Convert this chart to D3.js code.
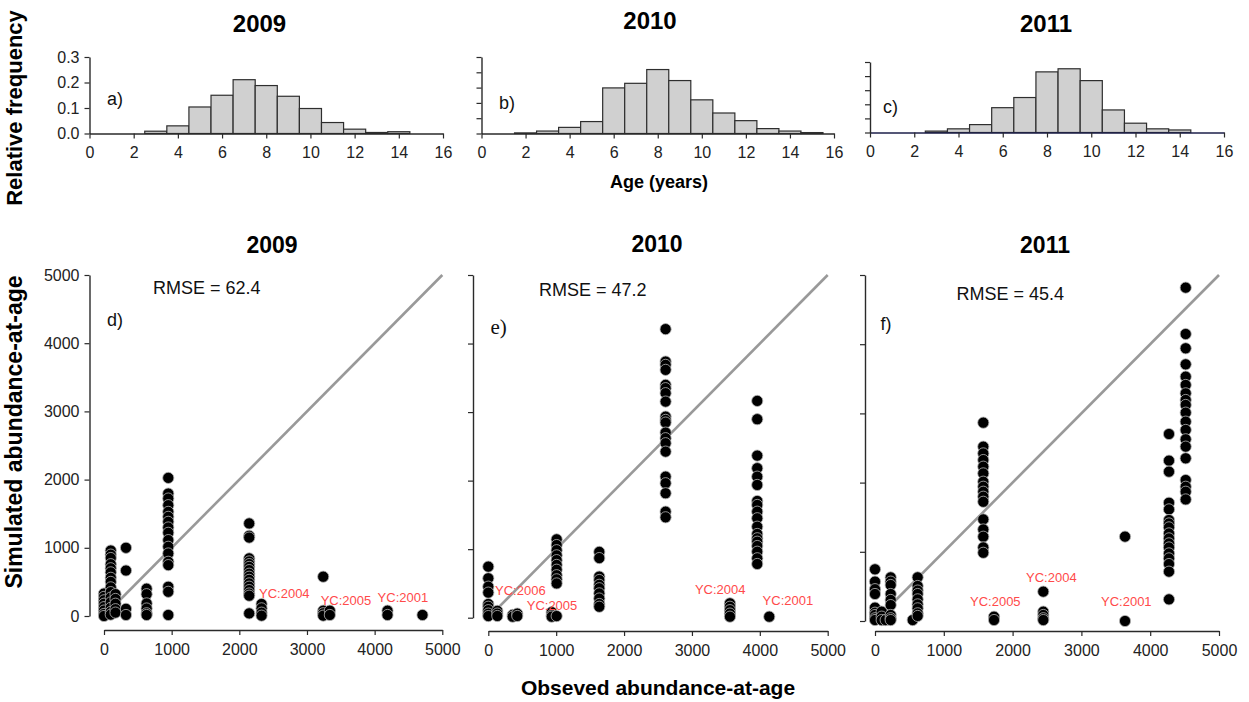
<!DOCTYPE html>
<html>
<head>
<meta charset="utf-8">
<script src="https://cdn.jsdelivr.net/npm/d3@7"></script>
<style>
  html, body { margin: 0; padding: 0; background: #fff; }
  svg { display: block; font-family: Arial, "Liberation Sans", sans-serif; }
</style>
</head>
<body>
<svg id="chart" width="1249" height="702"></svg>
<script>
// ---- Age composition (relative frequency by age) ----
const ages = [1, 2, 3, 4, 5, 6, 7, 8, 9, 10, 11, 12, 13, 14, 15];
const freq2009 = [0, 0, 0.009, 0.03, 0.104, 0.15, 0.211, 0.188, 0.146, 0.098, 0.043, 0.017, 0.004, 0.007, 0];
const freq2010 = [0, 0.002, 0.008, 0.02, 0.039, 0.149, 0.164, 0.209, 0.173, 0.11, 0.067, 0.042, 0.016, 0.008, 0.003];
const freq2011 = [0, 0, 0.005, 0.013, 0.028, 0.088, 0.124, 0.215, 0.226, 0.184, 0.08, 0.033, 0.013, 0.009, 0];
const ageTicks = [0, 2, 4, 6, 8, 10, 12, 14, 16];
const freqTicks = [0, 0.1, 0.2, 0.3];
const freqTicksMinor = [0, 0.05, 0.1, 0.15, 0.2, 0.25];

// ---- Observed vs simulated abundance-at-age ----
const obs2009 = [0, 100, 170, 325, 630, 950, 2146, 2329, 3240, 3338, 4190, 4707];
const sim2009 = [
  [330, 280, 230, 180, 130, 80, 30, 0],
  [960, 900, 850, 760, 700, 640, 560, 500, 420, 350, 270, 200, 120, 60, 20],
  [320, 250, 180, 100, 50],
  [1000, 667, 105, 15],
  [400, 320, 185, 110, 40, 15],
  [2025, 1795, 1722, 1625, 1527, 1454, 1381, 1298, 1220, 1113, 1015, 917, 795, 746, 429, 355, 15],
  [1357, 1176, 1150, 845, 800, 761, 720, 673, 620, 576, 530, 478, 430, 380, 330, 298, 38],
  [176, 112, 49, 5],
  [576, 78, 40, 5],
  [78, 15],
  [78, 15],
  [15]
];
const obs2010 = [0, 133, 359, 427, 934, 1007, 1635, 2612, 3560, 3962, 4139];
const sim2010 = [
  [745, 575, 453, 366, 200, 160, 110, 60, 24],
  [100, 60, 25],
  [40, 15],
  [60, 25],
  [80, 35, 15],
  [1143, 1060, 985, 910, 840, 770, 700, 620, 560, 500, 24],
  [960, 870, 600, 550, 480, 430, 355, 280, 200, 160],
  [4210, 3737, 3689, 3616, 3397, 3349, 3276, 3153, 2934, 2886, 2847, 2701, 2619, 2546, 2423, 2058, 1962, 1816, 1547, 1465],
  [210, 160, 110, 60, 15],
  [3163, 2896, 2365, 2181, 2058, 1937, 1703, 1645, 1547, 1451, 1328, 1222, 1159, 1109, 1046, 963, 867, 784],
  [15]
];
const obs2011 = [0, 97, 155, 228, 548, 620, 1574, 1730, 2446, 3634, 4273, 4516];
const sim2011 = [
  [747, 569, 460, 390, 193, 120, 87, 40, 14],
  [135, 63, 14],
  [14],
  [630, 569, 520, 390, 304, 230, 87, 40, 14],
  [14],
  [631, 506, 440, 390, 313, 240, 183, 111, 73],
  [2866, 2519, 2422, 2326, 2230, 2133, 2013, 1940, 1868, 1796, 1723, 1468, 1323, 1218, 1063, 986],
  [62, 14],
  [424, 135, 87, 40, 14],
  [1219, 0],
  [2702, 2317, 2158, 1709, 1613, 1459, 1410, 1353, 1266, 1194, 1122, 1063, 977, 905, 823, 713, 313],
  [4817, 4147, 3941, 3709, 3531, 3411, 3290, 3194, 3122, 3011, 2881, 2761, 2626, 2520, 2351, 2037, 1940, 1868, 1757]
];
const abundTicks = [0, 1000, 2000, 3000, 4000, 5000];
const rmseValues = [62.4, 47.2, 45.4];
const years = ["2009", "2010", "2011"];

// Year-class annotations, anchored in data units (observed, simulated)
const cohortLabels = [
  [{t: "YC:2004", x: 2291, y: 337}, {t: "YC:2005", x: 3203, y: 235}, {t: "YC:2001", x: 4044, y: 274}],
  [{t: "YC:2006", x: 99, y: 394}, {t: "YC:2005", x: 566, y: 175}, {t: "YC:2004", x: 3044, y: 419}, {t: "YC:2001", x: 4041, y: 258}],
  [{t: "YC:2005", x: 1381, y: 289}, {t: "YC:2004", x: 2195, y: 632}, {t: "YC:2001", x: 3285, y: 289}]
];

const svg = d3.select("#chart");
const axisColor = "#2a2a2a";
const tickColor = "#222";

function styleAxis(g) {
  g.select(".domain").attr("stroke", axisColor).attr("stroke-width", 1.4);
  g.selectAll(".tick line").attr("stroke", axisColor).attr("stroke-width", 1.2);
  g.selectAll(".tick text").attr("fill", tickColor).style("font-size", "16px")
    .style("font-family", "Arial, 'Liberation Sans', sans-serif");
}

// ---------- Histograms ----------
const histPanels = [
  {freq: freq2009, x0: 89.5, x1: 443, y0: 133.5, yTop: 57, dom: 0.3, ticks: freqTicks, labelY: true, tag: "a)", tagX: 107, tagY: 99, titleX: 259.5, titleY: 23, xAxisColor: axisColor},
  {freq: freq2010, x0: 481.5, x1: 834, y0: 133.5, yTop: 57, dom: 0.25, ticks: freqTicksMinor, labelY: false, tag: "b)", tagX: 499, tagY: 103, titleX: 650, titleY: 20, xAxisColor: axisColor},
  {freq: freq2011, x0: 870, x1: 1224, y0: 132.5, yTop: 62, dom: 0.25, ticks: freqTicksMinor, labelY: false, tag: "c)", tagX: 883, tagY: 107, titleX: 1046, titleY: 23, xAxisColor: "#1c1f4a"}
];

histPanels.forEach((p, i) => {
  const x = d3.scaleLinear().domain([0, 16]).range([p.x0, p.x1]);
  const y = d3.scaleLinear().domain([0, p.dom]).range([p.y0, p.yTop]);
  const g = svg.append("g");

  g.selectAll("rect.bar")
    .data(ages.map((a, k) => ({age: a, f: p.freq[k]})).filter(d => d.f > 0))
    .join("rect")
    .attr("class", "bar")
    .attr("x", d => x(d.age - 0.5))
    .attr("width", d => x(d.age + 0.5) - x(d.age - 0.5))
    .attr("y", d => y(d.f))
    .attr("height", d => y(0) - y(d.f))
    .attr("fill", "#d0d0d0")
    .attr("stroke", "#2e2e2e")
    .attr("stroke-width", 1.2);

  const xa = g.append("g").attr("transform", `translate(0,${p.y0})`)
    .call(d3.axisBottom(x).tickValues(ageTicks).tickSize(5).tickSizeOuter(0).tickPadding(8));
  styleAxis(xa);
  xa.select(".domain").attr("stroke", p.xAxisColor);

  const ya = g.append("g").attr("transform", `translate(${p.x0},0)`)
    .call(d3.axisLeft(y).tickValues(p.ticks).tickSize(5).tickSizeOuter(0).tickPadding(5)
      .tickFormat(p.labelY ? d3.format(".1f") : () => ""));
  styleAxis(ya);

  g.append("text").attr("x", p.tagX).attr("y", p.tagY).attr("dy", "0.35em")
    .attr("fill", "#111").style("font-size", "18px").text(p.tag);

  svg.append("text").attr("x", p.titleX).attr("y", p.titleY).attr("dy", "0.36em")
    .attr("text-anchor", "middle").style("font-weight", "bold").style("font-size", "24px")
    .attr("fill", "#000").text(years[i]);
});

svg.append("text")
  .attr("transform", "translate(22,108) rotate(-90)")
  .attr("text-anchor", "middle").style("font-weight", "bold").style("font-size", "22px")
  .attr("fill", "#000").text("Relative frequency");

svg.append("text").attr("x", 659).attr("y", 182).attr("dy", "0.36em")
  .attr("text-anchor", "middle").style("font-weight", "bold").style("font-size", "18px")
  .attr("fill", "#000").text("Age (years)");

// ---------- Scatter panels ----------
const scatterPanels = [
  {obs: obs2009, sim: sim2009, xr: [104, 442.3], yr: [616, 275], yAxisX: 89.5, xAxisY: 630, labelY: true,
   tag: "d)", tagX: 107, tagY: 320, tagFont: "Arial, 'Liberation Sans', sans-serif", tagSize: 18,
   rmseX: 153, rmseY: 288, titleX: 272, titleY: 245},
  {obs: obs2010, sim: sim2010, xr: [488.3, 827.7], yr: [617.7, 275], yAxisX: 473, xAxisY: 631, labelY: false,
   tag: "e)", tagX: 490.5, tagY: 327, tagFont: "'Liberation Serif', 'Times New Roman', serif", tagSize: 21,
   rmseX: 539, rmseY: 290, titleX: 657, titleY: 243.5},
  {obs: obs2011, sim: sim2011, xr: [875, 1219], yr: [621, 275], yAxisX: 865, xAxisY: 631, labelY: false,
   tag: "f)", tagX: 880.5, tagY: 324, tagFont: "Arial, 'Liberation Sans', sans-serif", tagSize: 18,
   rmseX: 956.5, rmseY: 294, titleX: 1045, titleY: 245}
];

scatterPanels.forEach((p, i) => {
  const x = d3.scaleLinear().domain([0, 5000]).range(p.xr);
  const y = d3.scaleLinear().domain([0, 5000]).range(p.yr);
  const g = svg.append("g");

  const xa = g.append("g").attr("transform", `translate(0,${p.xAxisY})`)
    .call(d3.axisBottom(x).tickValues(abundTicks).tickSize(5).tickSizeOuter(0).tickPadding(9).tickFormat(d3.format("d")));
  styleAxis(xa);

  const ya = g.append("g").attr("transform", `translate(${p.yAxisX},0)`)
    .call(d3.axisLeft(y).tickValues(abundTicks).tickSize(5).tickSizeOuter(0).tickPadding(5)
      .tickFormat(p.labelY ? d3.format("d") : () => ""));
  styleAxis(ya);

  // 1:1 line
  g.append("line")
    .attr("x1", x(0)).attr("y1", y(0)).attr("x2", x(5000)).attr("y2", y(5000))
    .attr("stroke", "#999").attr("stroke-width", 2.6);

  const pts = [];
  p.obs.forEach((o, k) => p.sim[k].forEach(s => pts.push({o, s})));
  g.selectAll("circle.pt").data(pts).join("circle")
    .attr("class", "pt")
    .attr("cx", d => x(d.o)).attr("cy", d => y(d.s)).attr("r", 5.6)
    .attr("fill", "#000").attr("stroke", "#b5b5b5").attr("stroke-width", 0.8);

  g.selectAll("text.yc").data(cohortLabels[i]).join("text")
    .attr("class", "yc")
    .attr("x", d => x(d.x)).attr("y", d => y(d.y)).attr("dy", "0.35em")
    .attr("fill", "#ff4a4a").style("font-size", "13px").text(d => d.t);

  g.append("text").attr("x", p.rmseX).attr("y", p.rmseY).attr("dy", "0.35em")
    .attr("fill", "#111").style("font-size", "18px").text(`RMSE = ${rmseValues[i]}`);

  g.append("text").attr("x", p.tagX).attr("y", p.tagY).attr("dy", "0.35em")
    .attr("fill", "#111").style("font-family", p.tagFont).style("font-size", p.tagSize + "px").text(p.tag);

  svg.append("text").attr("x", p.titleX).attr("y", p.titleY).attr("dy", "0.36em")
    .attr("text-anchor", "middle").style("font-weight", "bold").style("font-size", "23px")
    .attr("fill", "#000").text(years[i]);
});

svg.append("text")
  .attr("transform", "translate(22,432) rotate(-90)")
  .attr("text-anchor", "middle").style("font-weight", "bold").style("font-size", "23px")
  .attr("fill", "#000").text("Simulated abundance-at-age");

svg.append("text").attr("x", 658).attr("y", 688).attr("dy", "0.34em")
  .attr("text-anchor", "middle").style("font-weight", "bold").style("font-size", "21px")
  .attr("fill", "#000").text("Obseved abundance-at-age");
</script>
</body>
</html>
